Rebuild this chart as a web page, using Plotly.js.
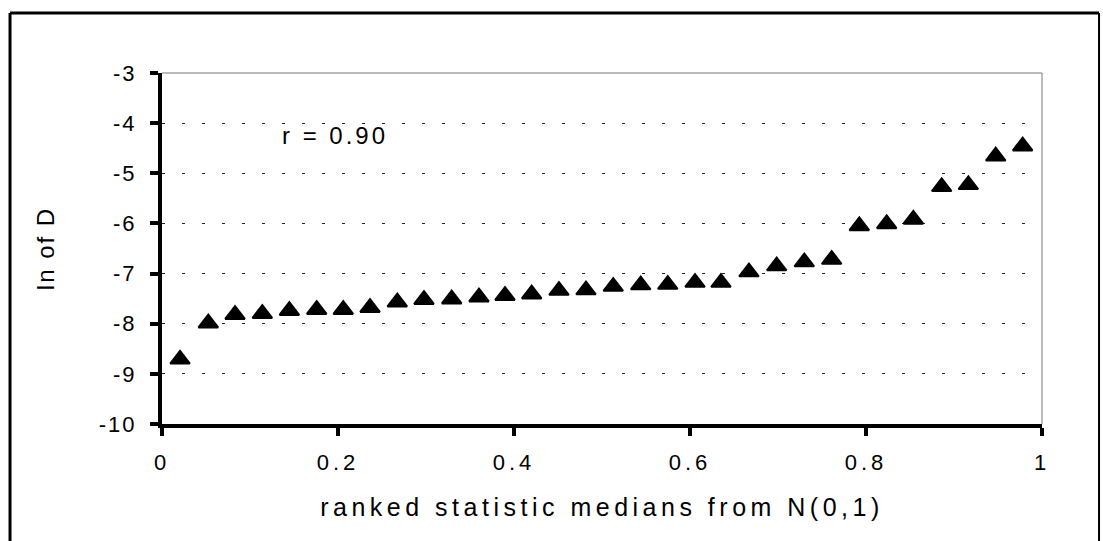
<!DOCTYPE html>
<html>
<head>
<meta charset="utf-8">
<script src="https://cdn.plot.ly/plotly-3.0.1.min.js"></script>
<style>
  html, body { margin: 0; padding: 0; background: #fff; }
  #chart { width: 1103px; height: 541px; }
  .xtitle { letter-spacing: 4.5px; }
  .ytitle { letter-spacing: 2px; }
  .annotation-text { letter-spacing: 3px; }
  .xtick text { letter-spacing: 4px; }
  .ytick text { letter-spacing: 2px; }
</style>
</head>
<body>
<div id="chart"></div>
<script>
// Ranked statistic medians (x) and ln of D (y)
const rankedMedians = [0.0205, 0.0526, 0.0830, 0.1140, 0.1447, 0.1758, 0.2060, 0.2364,
  0.2674, 0.2977, 0.3292, 0.3602, 0.3898, 0.4201, 0.4511, 0.4818,
  0.5128, 0.5440, 0.5747, 0.6057, 0.6352, 0.6670, 0.6985, 0.7299,
  0.7610, 0.7924, 0.8235, 0.8538, 0.8860, 0.9163, 0.9474, 0.9780];
const lnOfD = [-8.71, -7.99, -7.82, -7.80, -7.74, -7.72, -7.72, -7.68,
  -7.57, -7.52, -7.51, -7.47, -7.44, -7.41, -7.34, -7.33,
  -7.26, -7.23, -7.22, -7.18, -7.18, -6.97, -6.85, -6.77,
  -6.72, -6.05, -6.01, -5.92, -5.27, -5.23, -4.66, -4.46];

const xTickVals = [0, 0.2, 0.4, 0.6, 0.8, 1];
const xTickText = ['0', '0.2', '0.4', '0.6', '0.8', '1'];
const yTickVals = [-10, -9, -8, -7, -6, -5, -4, -3];
const yTickText = ['-10', '-9', '-8', '-7', '-6', '-5', '-4', '-3'];

const xTitle = 'ranked statistic medians from N(0,1)';
const yTitle = 'ln of D';
const rLabel = 'r = 0.90';

const FONT = 'Liberation Sans, Arial, sans-serif';

const trace = {
  x: rankedMedians,
  y: lnOfD,
  type: 'scatter',
  mode: 'markers',
  marker: { symbol: 'triangle-up', size: 17, color: '#000', line: { color: '#000', width: 2 } },
  hoverinfo: 'x+y'
};

const layout = {
  width: 1103,
  height: 541,
  margin: { l: 162, r: 61, t: 73, b: 117 },
  paper_bgcolor: '#fff',
  plot_bgcolor: '#fff',
  showlegend: false,
  font: { family: FONT, color: '#000', size: 22 },
  xaxis: {
    range: [0, 1],
    tickmode: 'array',
    tickvals: xTickVals,
    ticktext: xTickText,
    ticks: 'outside',
    ticklen: 8,
    tickwidth: 4,
    tickcolor: '#000',
    ticklabelstandoff: 8,
    showline: true,
    linewidth: 4,
    linecolor: '#000',
    showgrid: false,
    zeroline: false,
    tickfont: { family: FONT, size: 22, color: '#000' },
    title: { text: xTitle, font: { family: FONT, size: 25, color: '#000' }, standoff: 25 }
  },
  yaxis: {
    range: [-10, -3],
    tickmode: 'array',
    tickvals: yTickVals,
    ticktext: yTickText,
    ticks: 'outside',
    ticklen: 8,
    tickwidth: 4,
    tickcolor: '#000',
    ticklabelstandoff: 9,
    showline: true,
    linewidth: 4,
    linecolor: '#000',
    showgrid: true,
    gridcolor: '#222',
    gridwidth: 1,
    griddash: '3px,17px',
    zeroline: false,
    tickfont: { family: FONT, size: 22, color: '#000' },
    title: { text: yTitle, font: { family: FONT, size: 24, color: '#000' }, standoff: 38 }
  },
  annotations: [{
    x: 0.134, y: -4.24, xref: 'x', yref: 'y',
    text: rLabel, showarrow: false,
    xanchor: 'left', yanchor: 'middle',
    font: { family: FONT, size: 24, color: '#000' }
  }],
  shapes: [
    // thin top/right border of plot area
    { type: 'line', xref: 'paper', yref: 'paper', x0: 0, x1: 1, y0: 1, y1: 1, line: { color: '#777', width: 1 } },
    { type: 'line', xref: 'paper', yref: 'paper', x0: 1, x1: 1, y0: 0, y1: 1, line: { color: '#777', width: 1 } },
    // outer chart frame
    { type: 'line', xref: 'paper', yref: 'paper', x0: -0.1727, x1: -0.1727, y0: -0.4, y1: 1.171, line: { color: '#000', width: 3 } },
    { type: 'line', xref: 'paper', yref: 'paper', x0: -0.1727, x1: 1.0648, y0: 1.171, y1: 1.171, line: { color: '#000', width: 3 } },
    { type: 'line', xref: 'paper', yref: 'paper', x0: 1.0648, x1: 1.0648, y0: -0.4, y1: 1.171, line: { color: '#000', width: 2 } }
  ]
};

Plotly.newPlot('chart', [trace], layout, { displayModeBar: false, staticPlot: true });
</script>
</body>
</html>
